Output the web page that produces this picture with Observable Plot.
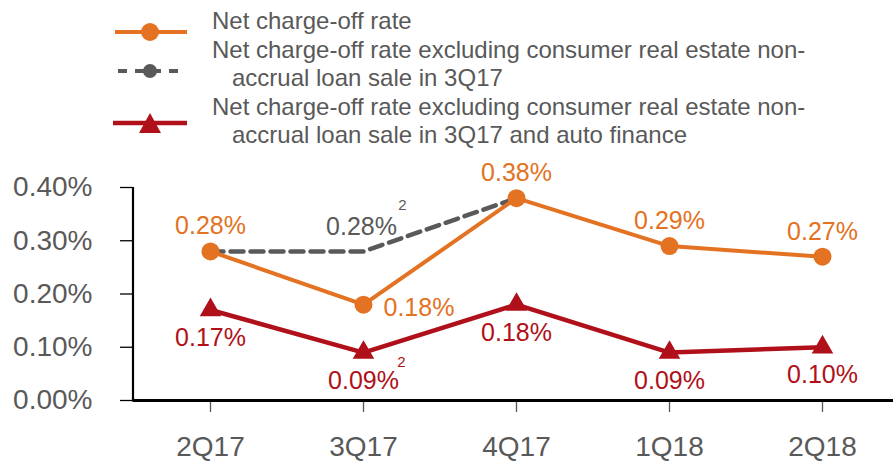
<!DOCTYPE html>
<html><head><meta charset="utf-8">
<script src="https://cdn.jsdelivr.net/npm/d3@7"></script>
<script src="https://cdn.jsdelivr.net/npm/@observablehq/plot@0.6"></script>
<style>
body{margin:0;background:#fff;font-family:"Liberation Sans",Arial,sans-serif;}
#wrap{width:893px;height:462px;position:relative;overflow:hidden}
#legend{position:relative;height:160px}
.lt{position:absolute;left:212px;top:7px;font-size:24px;line-height:28.5px;color:#595959;white-space:nowrap}
.ind{padding-left:20px}
.sw{position:absolute;left:113px}
#chart svg{display:block;overflow:visible}
</style></head><body>
<div id="wrap"><div id="legend"></div><div id="chart"></div></div>
<script>
const quarters = ["2Q17", "3Q17", "4Q17", "1Q18", "2Q18"];
const ncoRate = [0.28, 0.18, 0.38, 0.29, 0.27];
const ncoExSaleQuarters = ["2Q17", "3Q17", "4Q17"];
const ncoExSale = [0.28, 0.28, 0.38];
const ncoExSaleAuto = [0.17, 0.09, 0.18, 0.09, 0.10];
const yTicks = [0, 0.1, 0.2, 0.3, 0.4];
const noteQuarter = "3Q17";
const noteMark = "2";
const legendLabels = [
  ["Net charge-off rate"],
  ["Net charge-off rate excluding consumer real estate non-", "accrual loan sale in 3Q17"],
  ["Net charge-off rate excluding consumer real estate non-", "accrual loan sale in 3Q17 and auto finance"]
];

const ORANGE = "#E37222", GRAY = "#595959", RED = "#B01019", TXT = "#595959";
const fmt = v => v.toFixed(2) + "%";

// Legend
const legend = d3.select("#legend");
const lt = legend.append("div").attr("class", "lt");
legendLabels.forEach(lines => lines.forEach((l, j) => lt.append("div").attr("class", j ? "ind" : null).text(l)));
function swatch(cy) {
  return legend.append("svg").attr("class", "sw").attr("width", 76).attr("height", 30)
    .style("top", (cy - 15) + "px");
}
let s = swatch(32);
s.append("line").attr("x1", 2).attr("x2", 74).attr("y1", 15).attr("y2", 15).attr("stroke", ORANGE).attr("stroke-width", 4);
s.append("circle").attr("cx", 37).attr("cy", 15).attr("r", 9).attr("fill", ORANGE);
s = swatch(71);
s.append("line").attr("x1", 5).attr("x2", 70).attr("y1", 15).attr("y2", 15).attr("stroke", GRAY).attr("stroke-width", 4).attr("stroke-dasharray", "9,8");
s.append("circle").attr("cx", 37).attr("cy", 15).attr("r", 7).attr("fill", GRAY);
s = swatch(123);
s.append("line").attr("x1", 0).attr("x2", 74).attr("y1", 15).attr("y2", 15).attr("stroke", RED).attr("stroke-width", 4.5);
s.append("path").attr("d", "M37,5 L48,25 L26,25 Z").attr("fill", RED);

// Data tables
const rowsO = quarters.map((q, i) => ({q, v: ncoRate[i]}));
const rowsG = ncoExSaleQuarters.map((q, i) => ({q, v: ncoExSale[i]}));
const rowsR = quarters.map((q, i) => ({q, v: ncoExSaleAuto[i]}));

const ML = 133;
const chart = Plot.plot({
  width: 893, height: 302,
  marginLeft: ML, marginRight: 0, marginTop: 27, marginBottom: 62,
  style: {fontFamily: "Liberation Sans, Arial, sans-serif", fontSize: "28px", color: TXT, background: "transparent"},
  x: {type: "point", domain: quarters, padding: 0.48, align: 0.52, label: null},
  y: {domain: [0, 0.4], label: null},
  marks: [
    Plot.axisY({ticks: yTicks, tickSize: 13, tickPadding: 28, tickFormat: fmt, stroke: "#000", strokeWidth: 1.3, fill: TXT, fontSize: 28, label: null}),
    Plot.axisX({tickSize: 12, tickPadding: 24, stroke: TXT, strokeWidth: 1.3, fill: TXT, fontSize: 28, label: null}),
    Plot.ruleY([0], {stroke: "#000", strokeWidth: 3}),
    Plot.line(rowsG, {x: "q", y: "v", stroke: GRAY, strokeWidth: 4.5, strokeDasharray: "13,7"}),
    Plot.line(rowsO, {x: "q", y: "v", stroke: ORANGE, strokeWidth: 4}),
    Plot.dot(rowsO, {x: "q", y: "v", r: 9, fill: ORANGE}),
    Plot.line(rowsR, {x: "q", y: "v", stroke: RED, strokeWidth: 4.5}),
    Plot.dot(rowsR, {x: "q", y: "v", r: 8, symbol: "triangle", fill: RED}),
    Plot.text(rowsO.filter(d => d.q !== noteQuarter), {x: "q", y: "v", text: d => fmt(d.v), dy: -25, fill: ORANGE, fontSize: 25}),
    Plot.text(rowsO.filter(d => d.q === noteQuarter), {x: "q", y: "v", text: d => fmt(d.v), dx: 20, dy: 3, textAnchor: "start", fill: ORANGE, fontSize: 25}),
    Plot.text(rowsG.filter(d => d.q === noteQuarter), {x: "q", y: "v", text: d => fmt(d.v), dx: -2, dy: -24, fill: GRAY, fontSize: 25}),
    Plot.text(rowsG.filter(d => d.q === noteQuarter), {x: "q", y: "v", text: () => noteMark, dx: 39, dy: -46, fill: GRAY, fontSize: 15}),
    Plot.text(rowsR, {x: "q", y: "v", text: d => fmt(d.v), dy: 28, fill: RED, fontSize: 25}),
    Plot.text(rowsR.filter(d => d.q === noteQuarter), {x: "q", y: "v", text: () => noteMark, dx: 38, dy: 10, fill: RED, fontSize: 15})
  ]
});
// vertical y-axis domain line, placed through the y scale
const ys = chart.scale("y");
d3.select(chart).append("line")
  .attr("x1", ML).attr("x2", ML)
  .attr("y1", ys.apply(yTicks[yTicks.length - 1])).attr("y2", ys.apply(0) + 1.5)
  .attr("stroke", "#000").attr("stroke-width", 2.2);
document.getElementById("chart").appendChild(chart);
</script>
</body></html>
